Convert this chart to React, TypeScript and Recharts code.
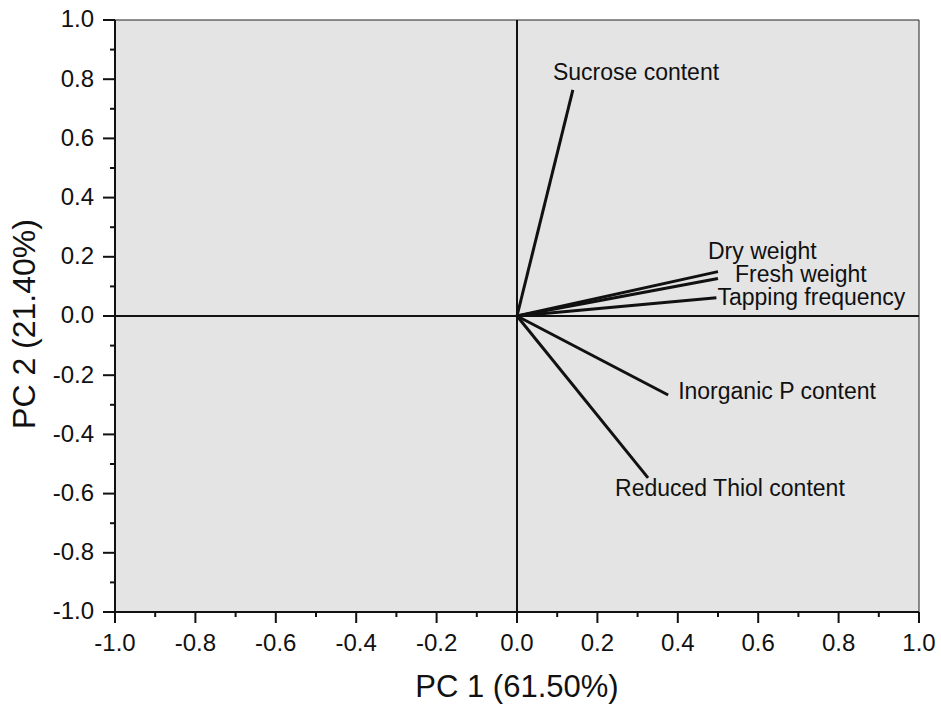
import React from 'react';
import { ScatterChart, Scatter, XAxis, YAxis, CartesianGrid, ReferenceLine, Label } from 'recharts';

// loadings
const variables = ['Sucrose content', 'Dry weight', 'Fresh weight', 'Tapping frequency', 'Inorganic P content', 'Reduced Thiol content'];
const pc1 = [0.139, 0.5, 0.5, 0.496, 0.376, 0.326];
const pc2 = [0.764, 0.15, 0.127, 0.062, -0.267, -0.547];

// where each label sits relative to the arrow tip (px)
const labelOffsets = [
  [-20, -16],
  [-10, -19],
  [17, -2],
  [1, 1],
  [10, -2],
  [-33, 12],
];

const ticks = [-1, -0.9, -0.8, -0.7, -0.6, -0.5, -0.4, -0.3, -0.2, -0.1, 0, 0.1, 0.2, 0.3, 0.4, 0.5, 0.6, 0.7, 0.8, 0.9, 1];

const FONT = 'Liberation Sans, Arial, sans-serif';

const isMajor = (v: number) => Math.abs(Math.round(v * 10)) % 2 === 0;

const XTick = (props: any) => {
  const { x, y, payload } = props;
  const v = payload.value;
  const major = isMajor(v);
  return (
    <g>
      <line x1={x} x2={x} y1={y} y2={y + (major ? 11 : 5)} stroke="#111" strokeWidth={2} />
      {major && (
        <text x={x} y={y + 33} textAnchor="middle" dominantBaseline="middle" fontSize={24} fontFamily={FONT} fill="#111">
          {v.toFixed(1)}
        </text>
      )}
    </g>
  );
};

const YTick = (props: any) => {
  const { x, y, payload } = props;
  const v = payload.value;
  const major = isMajor(v);
  return (
    <g>
      <line x1={x} x2={x - (major ? 12 : 5)} y1={y} y2={y} stroke="#111" strokeWidth={2} />
      {major && (
        <text x={x - 21} y={y + 1} textAnchor="end" dominantBaseline="middle" fontSize={24} fontFamily={FONT} fill="#111">
          {v.toFixed(1)}
        </text>
      )}
    </g>
  );
};

const makeTip = (i: number) => (props: any) => {
  const { cx, cy, payload } = props;
  if (payload.x === 0 && payload.y === 0) return <g />;
  const [dx, dy] = labelOffsets[i];
  return (
    <text x={cx + dx} y={cy + dy} dominantBaseline="middle" fontSize={23} fontFamily={FONT} fill="#111">
      {variables[i]}
    </text>
  );
};

const App = () => {
  const series = variables.map((name, i) => ({
    name,
    data: [
      { x: 0, y: 0 },
      { x: pc1[i], y: pc2[i] },
    ],
  }));

  return (
    <div style={{ position: 'absolute', left: 0, top: 0, background: '#fff' }}>
      <ScatterChart width={941} height={709} margin={{ top: 20, right: 22, left: 0, bottom: 0 }}>
        <CartesianGrid horizontal={false} vertical={false} fill="#e4e4e4" />
        <XAxis
          type="number"
          dataKey="x"
          domain={[-1, 1]}
          ticks={ticks}
          interval={0}
          height={97}
          tickSize={0}
          tickMargin={0}
          tick={<XTick />}
          axisLine={{ stroke: '#111', strokeWidth: 2 }}
          allowDataOverflow
        >
          <Label
            content={({ viewBox }: any) => (
              <text
                x={viewBox.x + viewBox.width / 2}
                y={689}
                textAnchor="middle"
                dominantBaseline="middle"
                fontSize={31}
                fontFamily={FONT}
                fill="#111"
              >
                PC 1 (61.50%)
              </text>
            )}
          />
        </XAxis>
        <YAxis
          type="number"
          dataKey="y"
          domain={[-1, 1]}
          ticks={ticks}
          interval={0}
          width={115}
          tickSize={0}
          tickMargin={0}
          tick={<YTick />}
          axisLine={{ stroke: '#111', strokeWidth: 2 }}
          allowDataOverflow
        >
          <Label
            content={({ viewBox }: any) => {
              const cx = 27;
              const cy = viewBox.y + viewBox.height / 2 + 8;
              return (
                <text
                  x={cx}
                  y={cy}
                  transform={`rotate(-90 ${cx} ${cy})`}
                  textAnchor="middle"
                  dominantBaseline="middle"
                  fontSize={32}
                  fontFamily={FONT}
                  fill="#111"
                >
                  PC 2 (21.40%)
                </text>
              );
            }}
          />
        </YAxis>
        <ReferenceLine y={1} stroke="#222" strokeWidth={1} />
        <ReferenceLine x={1} stroke="#222" strokeWidth={1} />
        <ReferenceLine y={0} stroke="#111" strokeWidth={2} />
        <ReferenceLine x={0} stroke="#111" strokeWidth={2} />
        {series.map((s, i) => (
          <Scatter
            key={s.name}
            name={s.name}
            data={s.data}
            line={{ stroke: '#111', strokeWidth: 3 }}
            shape={makeTip(i)}
            isAnimationActive={false}
          />
        ))}
      </ScatterChart>
    </div>
  );
};

export default App;
